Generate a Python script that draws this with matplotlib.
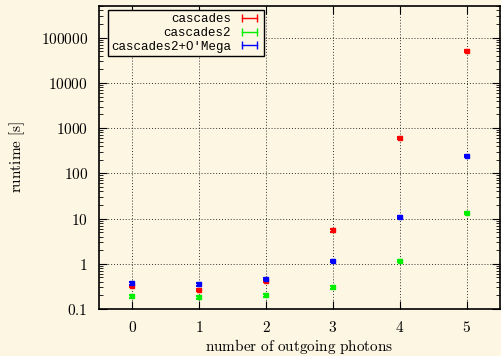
"""Runtime vs number of outgoing photons (log scale)."""

import matplotlib
matplotlib.use("Agg")
import matplotlib.pyplot as plt
from matplotlib.lines import Line2D
from matplotlib.ticker import FixedLocator, FixedFormatter, LogLocator, NullFormatter

photons = [0, 1, 2, 3, 4, 5]
cascades = [0.32, 0.26, 0.42, 5.5, 600, 50000]
cascades2 = [0.19, 0.18, 0.20, 0.30, 1.16, 13.5]
cascades2_omega = [0.37, 0.35, 0.46, 1.15, 10.7, 240]
rel_err = 0.06

series_names = ["cascades", "cascades2", "cascades2+O'Mega"]
series_colors = ["#ff0000", "#00ee00", "#0000ff"]
ytick_vals = [0.1, 1, 10, 100, 1000, 10000, 100000]
ytick_labels = ["0.1", "1", "10", "100", "1000", "10000", "100000"]

bg = "#fdf6e3"
plt.rcParams["mathtext.fontset"] = "cm"

fig = plt.figure(figsize=(5.01, 3.56), dpi=100, facecolor=bg)
ax = fig.add_axes([0.1976, 0.132, 0.8004, 0.851], facecolor=bg)

for vals, col in zip([cascades, cascades2, cascades2_omega], series_colors):
    ax.errorbar(photons, vals, yerr=[v * rel_err for v in vals], fmt="s",
                ms=2.5, color=col, ecolor=col, elinewidth=1.5, capsize=2.5,
                capthick=1.5, zorder=3)

ax.set_yscale("log")
ax.set_ylim(0.1, 5e5)
ax.set_xlim(-0.5, 5.5)

ax.yaxis.set_major_locator(FixedLocator(ytick_vals))
ax.yaxis.set_major_formatter(FixedFormatter(["$%s$" % t for t in ytick_labels]))
ax.yaxis.set_minor_locator(LogLocator(base=10, subs=range(2, 10)))
ax.yaxis.set_minor_formatter(NullFormatter())
ax.set_xticks(photons)
ax.set_xticklabels(["$%d$" % p for p in photons])

ax.tick_params(which="both", direction="in", top=True, right=True,
               labelsize=11, color="black")
ax.tick_params(which="major", length=6, width=0.8, pad=8)
ax.tick_params(which="minor", length=3, width=0.6)
ax.tick_params(axis="x", which="minor", top=False, bottom=False)

ax.grid(True, which="major", color="black", linestyle=(0, (1, 2)), lw=0.7, alpha=0.8)
for s in ax.spines.values():
    s.set_linewidth(1.2)

ax.set_xlabel(r"$\mathrm{number\ of\ outgoing\ photons}$", fontsize=11)
ax.set_ylabel(r"$\mathrm{runtime}\ [\mathrm{s}]$", fontsize=11)
ax.xaxis.set_label_coords(0.5, -0.124, transform=ax.transAxes)
ax.yaxis.set_label_coords(-0.205, 0.5, transform=ax.transAxes)
ax.xaxis.label.set_va("center")
ax.yaxis.label.set_va("center")

handles = [Line2D([], [], color=c, marker="|", ms=6, lw=1) for c in series_colors]
leg = ax.legend(handles, series_names, loc="upper left", bbox_to_anchor=(0.022, 0.987),
                borderaxespad=0, markerfirst=False, numpoints=2, handlelength=1.8,
                handletextpad=0.6, labelspacing=0.15, borderpad=0.25, fancybox=False,
                framealpha=1, facecolor=bg, edgecolor="black",
                prop={"family": "Liberation Mono", "size": 9})
leg.get_frame().set_linewidth(1.0)
for t in leg.get_texts():
    t.set_ha("right")

fig.savefig("out.png", dpi=100, facecolor=bg)
